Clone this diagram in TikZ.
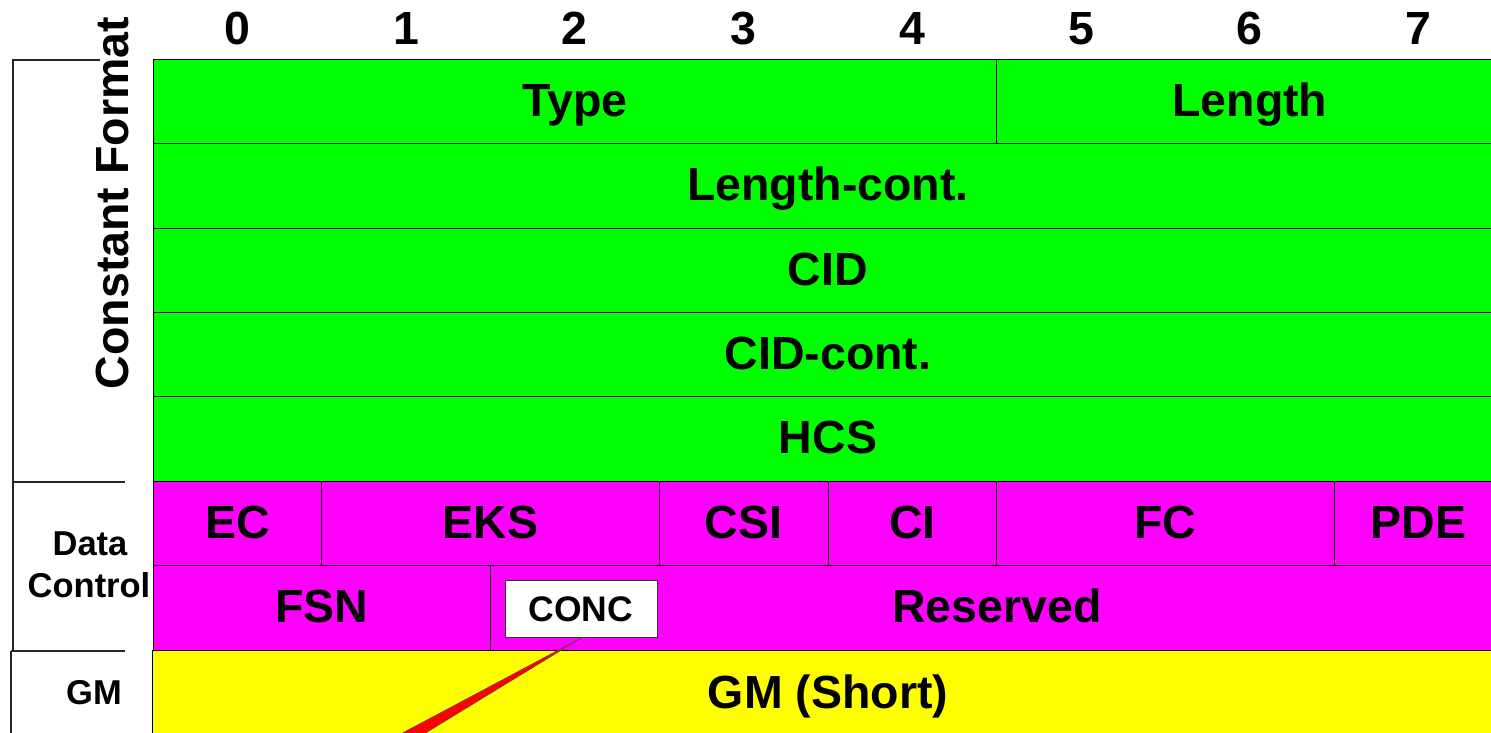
\documentclass[tikz,border=0pt]{standalone}
\usepackage{fontspec}
\setmainfont{Liberation Sans}
\tikzset{
  cellline/.style={draw=black, line width=1pt},
  big/.style={font=\fontsize{46.5}{50}\selectfont\bfseries, text height=33.5pt, text depth=0pt, inner sep=0pt},
  mid/.style={font=\fontsize{34.5}{40}\selectfont\bfseries, text height=24.8pt, text depth=0pt, inner sep=0pt},
  bracket/.style={draw=black!85, line width=1.2pt},
}
\definecolor{gr}{HTML}{00FF00}
\definecolor{mg}{HTML}{FF00FF}
\definecolor{yl}{HTML}{FFFF00}
\newcommand{\mycell}[7]{%
  \path[cellline, fill=#6] (#2,#3) rectangle (#4,#5);
  \node[big] (#1) at ({(#2+#4)/2},{(#3+#5)/2-2}) {#7};}
\begin{document}
\begin{tikzpicture}[x=1pt,y=-1pt]
\useasboundingbox (0,0) rectangle (1491,733);
\clip (0,0) rectangle (1491,733);
% column numbers
\foreach \i in {0,...,7}{
  \node[big] (n\i) at ({153+168.75*(\i+0.5)},28) {\i};
}
% green rows
\mycell{type}{153}{60}{996.75}{144}{gr}{Type}
\mycell{len}{996.75}{60}{1503}{144}{gr}{Length}
\mycell{lenc}{153}{144}{1503}{228}{gr}{Length-cont.}
\mycell{cid}{153}{228}{1503}{312.5}{gr}{CID}
\mycell{cidc}{153}{312.5}{1503}{396.5}{gr}{CID-cont.}
\mycell{hcs}{153}{396.5}{1503}{481}{gr}{HCS}
% magenta rows
\mycell{ec}{153}{481}{321.75}{565.5}{mg}{EC}
\mycell{eks}{321.75}{481}{659.25}{565.5}{mg}{EKS}
\mycell{csi}{659.25}{481}{828}{565.5}{mg}{CSI}
\mycell{ci}{828}{481}{996.75}{565.5}{mg}{CI}
\mycell{fc}{996.75}{481}{1334.25}{565.5}{mg}{FC}
\mycell{pde}{1334.25}{481}{1503}{565.5}{mg}{PDE}
\mycell{fsn}{153}{565.5}{490.5}{650}{mg}{FSN}
\mycell{res}{490.5}{565.5}{1503}{650}{mg}{Reserved}
% yellow row
\mycell{gms}{152}{650}{1503}{760}{yl}{}
\node[big] (gmshort) at (828,692) {GM (Short)};
% CONC box and callout
\node[draw=black!80, line width=1pt, fill=white, minimum width=152pt, minimum height=57pt, inner sep=0pt,
      font=\fontsize{35.5}{40}\selectfont\bfseries, text height=25.5pt, text depth=0pt] (conc) at (581,608.5) {CONC};
\coordinate (tipA) at (395,737);
\coordinate (tipB) at (419,737);
\path[fill=red, draw=black!70, line width=0.5pt] ([xshift=1pt]conc.south) -- (tipA) -- (tipB) -- cycle;
% left labels and brackets
\node[big, rotate=90] (cf) at (112,203) {Constant Format};
\path[bracket] (100,60) -- (13,60) -- (13,482) -- (125,482);
\path[bracket] (13,482) -- (13,650.5);
\path[bracket] (11,651) -- (125,651);
\path[bracket] (11,651) -- (11,740);
\node[mid] (data) at (90,543) {Data};
\node[mid] (control) at (89,585) {Control};
\node[mid] (gm) at (94,692) {GM};
\end{tikzpicture}
\end{document}
